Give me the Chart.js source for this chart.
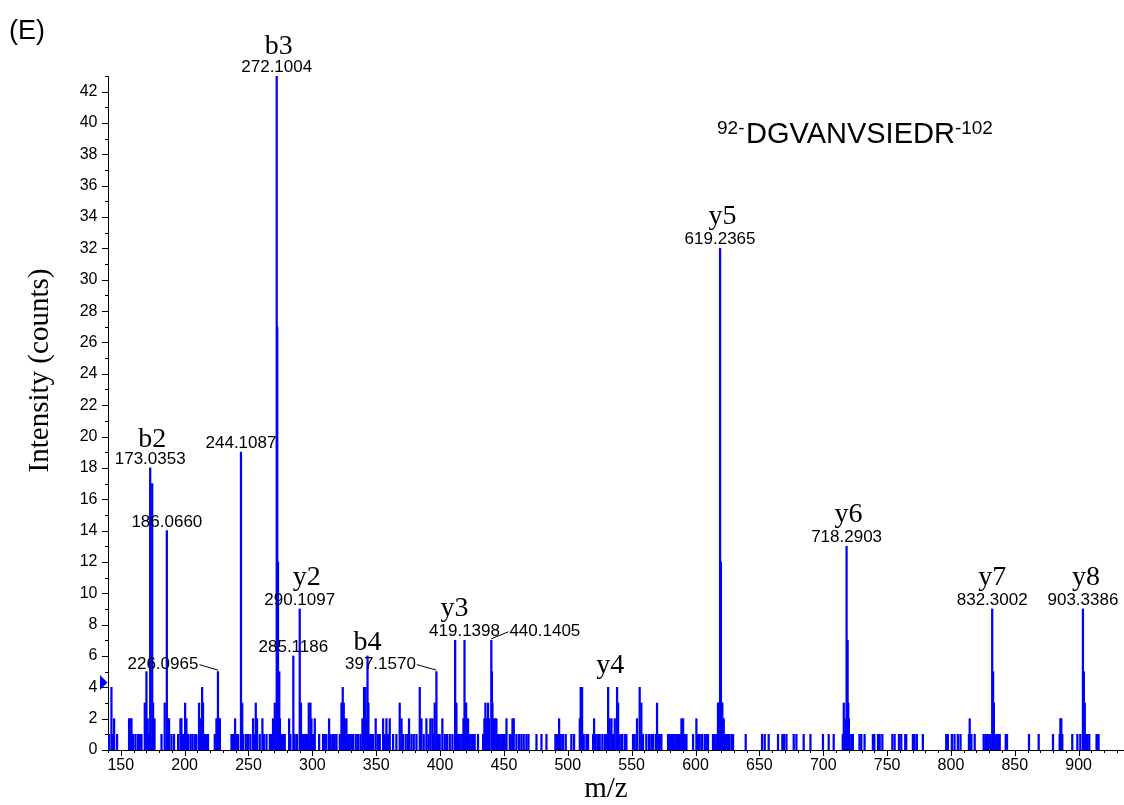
<!DOCTYPE html>
<html>
<head>
<meta charset="utf-8">
<title>MS/MS spectrum DGVANVSIEDR</title>
<script src="https://cdn.jsdelivr.net/npm/chart.js@4.4.1/dist/chart.umd.min.js"></script>
<style>
  html, body { margin: 0; padding: 0; background: #ffffff; }
  #wrap { width: 1124px; height: 805px; position: relative; }
</style>
</head>
<body>
<div id="wrap"><canvas id="spectrum" width="1124" height="805"></canvas></div>
<script>
// Centroided fragment lines of the MS/MS spectrum (m/z and counts, same order)
const mzValues = [
  140.8, 142.7, 143.5, 144.8, 147.1, 156.5, 157.6, 158.4, 159.6, 161.5, 163.5, 164.9, 166.2, 168.8, 170.1, 171.1, 172.2,
  173.0353, 174.6, 175.3, 176.4, 181.9, 184.4, 186.0660, 187.1, 187.8, 189.7, 191.7, 194.9, 196.7, 197.5, 198.8,
  200.4, 201.4, 202.7, 204.6, 206.1, 207.9, 209.2, 211.3, 212.6, 213.7, 214.4, 215.8, 217.1, 218.3, 223.6, 224.9,
  226.0965, 226.9, 227.6, 236.7, 237.9, 239.5, 240.6, 241.9, 244.1087, 245.1, 245.8, 247.9, 249.7, 251.5, 253.6,
  254.9, 255.7, 256.7, 258.8, 260.9, 262.0, 264.1, 266.7, 268.0, 269.2, 270.6, 272.1004, 272.5, 273.1, 273.6, 274.1,
  274.6, 275.8, 277.1, 278.4, 281.8, 282.8, 285.1186, 286.2, 288.0, 290.1097, 291.1, 292.2, 293.5, 294.8, 295.9,
  297.2, 298.5, 299.3, 300.6, 301.9, 305.3, 308.4, 309.7, 311.0, 313.1, 314.4, 316.2, 317.5, 318.9, 321.5, 322.8,
  323.8, 324.6, 325.6, 326.7, 328.0, 329.3, 330.6, 331.9, 334.0, 335.8, 337.7, 339.2, 340.5, 341.6, 342.4, 343.2,
  343.9, 345.0, 346.3, 347.6, 349.6, 351.4, 352.8, 355.4, 356.7, 358.0, 359.3, 360.6, 363.2, 365.8, 368.4, 369.8,
  371.0, 373.1, 374.9, 375.7, 377.6, 379.4, 381.5, 384.1, 385.4, 387.2, 389.3, 390.9, 392.4, 394.0, 395.0, 395.8,
  397.1570, 398.4, 399.7, 401.8, 403.7, 405.5, 407.6, 409.7, 411.8, 412.8, 414.1, 415.4, 417.0, 418.3, 419.1398,
  419.8, 420.4, 421.9, 423.2, 424.6, 425.8, 427.1, 429.7, 433.7, 434.7, 435.5, 436.5, 437.6, 438.3, 440.1405, 440.6,
  441.0, 441.6, 442.8, 444.1, 445.4, 446.7, 448.1, 449.3, 450.6, 452.0, 454.6, 455.9, 456.7, 457.7, 459.8, 461.9,
  463.7, 465.5, 467.6, 469.2, 475.5, 479.4, 483.3, 490.3, 491.6, 493.2, 494.5, 496.3, 498.4, 502.8, 504.9, 509.4,
  510.1, 511.2, 512.5, 514.6, 515.9, 519.8, 520.6, 521.9, 523.7, 525.0, 527.1, 529.0, 530.3, 531.6, 532.8, 534.2,
  535.4, 536.8, 538.6, 539.4, 540.7, 542.5, 544.6, 545.9, 551.1, 552.4, 554.2, 556.3, 557.6, 558.9, 561.5, 563.6,
  565.4, 566.6, 568.8, 569.9, 570.9, 572.0, 573.3, 578.5, 579.3, 580.4, 581.7, 583.0, 584.6, 586.4, 587.7, 589.0,
  590.3, 591.6, 592.9, 598.1, 600.7, 602.0, 603.3, 605.1, 607.2, 608.5, 609.8, 613.7, 615.0, 616.4, 617.6, 618.4,
  619.2365, 619.9, 620.4, 621.0, 621.6, 622.1, 623.1, 624.7, 626.3, 628.1, 629.4, 639.3, 652.1, 654.2, 657.3, 664.6,
  668.0, 669.3, 671.2, 676.9, 679.0, 684.7, 690.0, 699.8, 704.3, 708.2, 715.3, 716.1, 716.8, 717.6, 718.2903, 719.1,
  719.6, 720.1, 721.9, 723.2, 728.4, 729.8, 732.4, 738.9, 740.0, 742.9, 744.2, 746.3, 754.1, 755.9, 759.3, 761.1,
  764.2, 765.0, 770.2, 771.5, 773.3, 778.0, 796.3, 797.6, 800.7, 802.8, 805.4, 807.5, 814.1, 814.7, 816.0, 818.6,
  825.6, 827.0, 828.2, 829.6, 830.9, 832.3002, 833.0, 833.6, 834.3, 835.6, 836.9, 838.2, 842.9, 843.9, 861.1, 868.7,
  879.9, 885.1, 885.7, 886.4, 887.2, 895.0, 899.0, 901.3, 903.3386, 904.1, 904.8, 905.7, 907.0, 908.3, 914.0, 914.8,
  915.6
];
const intensityValues = [
  1, 4, 1, 2, 1, 2, 2, 2, 1, 1, 1, 1, 1, 3, 5, 2, 1,
  18, 17, 3, 2, 1, 3, 14, 2, 2, 1, 1, 1, 2, 2, 1,
  3, 2, 1, 1, 1, 1, 1, 3, 2, 4, 3, 1, 1, 1, 1, 2,
  5, 2, 2, 1, 1, 2, 1, 1, 19, 3, 1, 1, 1, 1, 2,
  1, 3, 2, 1, 2, 1, 1, 1, 1, 2, 3, 43, 27, 12, 3, 5,
  2, 1, 1, 1, 2, 1, 6, 1, 1, 9, 3, 1, 1, 1, 1,
  3, 3, 2, 1, 2, 1, 1, 1, 1, 2, 1, 1, 1, 1, 1, 3,
  4, 3, 2, 2, 1, 1, 1, 1, 1, 1, 1, 2, 4, 4, 2, 6,
  3, 1, 1, 1, 2, 1, 1, 2, 1, 2, 1, 2, 1, 1, 3, 2,
  1, 1, 1, 2, 1, 1, 1, 4, 2, 1, 2, 1, 2, 2, 1, 3,
  5, 1, 1, 2, 1, 1, 1, 1, 7, 3, 1, 1, 1, 2, 7,
  3, 3, 2, 1, 1, 1, 1, 1, 1, 2, 3, 2, 3, 2, 7, 5,
  3, 2, 2, 2, 1, 1, 1, 1, 1, 2, 1, 1, 2, 2, 1, 1,
  1, 1, 1, 1, 1, 1, 1, 1, 1, 2, 1, 1, 1, 1, 1, 2,
  4, 4, 1, 1, 1, 1, 2, 1, 1, 1, 1, 1, 1, 4, 2, 2,
  1, 2, 4, 3, 1, 1, 1, 1, 1, 1, 2, 4, 3, 1, 1, 1,
  1, 1, 1, 3, 1, 1, 1, 1, 1, 1, 1, 1, 1, 1, 1, 2,
  2, 1, 1, 1, 2, 1, 1, 1, 1, 1, 1, 1, 1, 1, 3, 3,
  32, 12, 3, 3, 2, 2, 1, 1, 1, 1, 1, 1, 1, 1, 1, 1,
  1, 1, 1, 1, 1, 1, 1, 1, 1, 1, 1, 3, 1, 2, 13, 7,
  3, 2, 1, 1, 1, 1, 1, 1, 1, 1, 1, 1, 1, 1, 1, 1,
  1, 1, 1, 1, 1, 1, 1, 1, 1, 1, 1, 1, 1, 2, 1, 1,
  1, 1, 1, 1, 1, 9, 5, 3, 1, 1, 1, 1, 1, 1, 1, 1,
  1, 1, 2, 2, 1, 1, 1, 1, 9, 5, 3, 1, 1, 1, 1, 1,
  1
];

// Axis tick labels
const xTickValues = [150, 200, 250, 300, 350, 400, 450, 500, 550, 600, 650, 700, 750, 800, 850, 900];
const yTickValues = [0, 2, 4, 6, 8, 10, 12, 14, 16, 18, 20, 22, 24, 26, 28, 30, 32, 34, 36, 38, 40, 42];

// Annotated fragment masses and ion assignments
const labeledMasses = [173.0353, 186.0660, 226.0965, 244.1087, 272.1004, 285.1186, 290.1097, 397.1570, 419.1398, 440.1405, 619.2365, 718.2903, 832.3002, 903.3386];
const ionNames  = ['b2', 'b3', 'b4', 'y2', 'y3', 'y4', 'y5', 'y6', 'y7', 'y8'];
const ionMasses = [173.0353, 272.1004, 343.2, 290.1097, 419.1398, 531.6, 619.2365, 718.2903, 832.3002, 903.3386];

// Precursor peptide and threshold level marker
const peptideSequence = 'DGVANVSIEDR';
const peptideStart = '92-';
const peptideEnd = '-102';
const thresholdLevel = 4.3;

// Text placement relative to the top of each labelled line (pixels)
const massLabelOffsets = {
  '226.0965': { dx: -55, dy: -3, leader: true },
  '397.1570': { dx: -56, dy: -3, leader: true },
  '440.1405': { dx: 53.5, dy: -4.5, leader: true }
};
const ionLabelOffsets = {
  b2: { dx: 2, dy: -21 },  b3: { dx: 2, dy: -21.7 }, b4: { dx: 0, dy: -5.5 },
  y2: { dx: 7, dy: -24 },  y3: { dx: -10, dy: -24 }, y4: { dx: 2, dy: -14.4 },
  y5: { dx: 2.5, dy: -24 }, y6: { dx: 2, dy: -24 }, y7: { dx: 0, dy: -24 }, y8: { dx: 3, dy: -24 }
};

const SANS = '"Liberation Sans", Arial, sans-serif';
const SERIF = '"Liberation Serif", "Times New Roman", serif';
const BLUE = '#0000ff';

function intensityAt(mz) {
  const i = mzValues.indexOf(mz);
  return i >= 0 ? intensityValues[i] : 0;
}

const spectrumDecorations = {
  id: 'spectrumDecorations',
  afterDraw(chart) {
    const { ctx, chartArea, scales } = chart;
    const xs = scales.x, ys = scales.y;
    ctx.save();

    // major and minor tick marks
    ctx.strokeStyle = '#000';
    ctx.lineWidth = 1;
    ctx.beginPath();
    for (let v = 140; v <= xs.max; v += 10) {
      const px = Math.round(xs.getPixelForValue(v)) + 0.5;
      const len = v % 50 === 0 ? 6 : 3;
      ctx.moveTo(px, chartArea.bottom);
      ctx.lineTo(px, chartArea.bottom + len);
    }
    for (let v = 0; v <= ys.max; v += 1) {
      const py = Math.round(ys.getPixelForValue(v)) + 0.5;
      const len = v % 2 === 0 ? 6 : 3;
      ctx.moveTo(chartArea.left, py);
      ctx.lineTo(chartArea.left - len, py);
    }
    ctx.stroke();

    // threshold marker on the intensity axis
    const ty = ys.getPixelForValue(thresholdLevel);
    ctx.fillStyle = BLUE;
    ctx.beginPath();
    ctx.moveTo(chartArea.left - 0.5, ty);
    ctx.lineTo(chartArea.left - 8, ty - 7.5);
    ctx.lineTo(chartArea.left - 8, ty + 7.5);
    ctx.closePath();
    ctx.fill();

    // m/z labels of annotated lines
    ctx.fillStyle = '#000';
    ctx.textBaseline = 'alphabetic';
    ctx.textAlign = 'center';
    ctx.font = '17px ' + SANS;
    labeledMasses.forEach(mz => {
      const text = mz.toFixed(4);
      const px = xs.getPixelForValue(mz);
      const top = ys.getPixelForValue(intensityAt(mz));
      const o = massLabelOffsets[text] || { dx: 0, dy: -4 };
      const cx = px + o.dx, base = top + o.dy;
      ctx.fillText(text, cx, base);
      if (o.leader) {
        const w = ctx.measureText(text).width;
        const edge = o.dx < 0 ? cx + w / 2 + 1 : cx - w / 2 - 1;
        ctx.beginPath();
        ctx.moveTo(edge, base - 4);
        ctx.lineTo(px, top - 1.5);
        ctx.stroke();
      }
    });

    // ion assignments
    ctx.font = '28px ' + SERIF;
    ionNames.forEach((name, i) => {
      const mz = ionMasses[i];
      const px = xs.getPixelForValue(mz);
      const top = ys.getPixelForValue(intensityAt(mz));
      const o = ionLabelOffsets[name];
      ctx.fillText(name, px + o.dx, top + o.dy);
    });

    // axis titles
    ctx.font = '29px ' + SERIF;
    ctx.textAlign = 'center';
    ctx.fillText('m/z', 606, 797);
    ctx.save();
    ctx.translate(47.5, 370.5);
    ctx.rotate(-Math.PI / 2);
    ctx.fillText('Intensity (counts)', 0, 0);
    ctx.restore();

    // panel letter
    ctx.textAlign = 'left';
    ctx.font = '27px ' + SANS;
    ctx.fillText('(E)', 9, 38.5);

    // peptide sequence with residue numbers
    let xp = 717;
    ctx.font = '19px ' + SANS;
    ctx.fillText(peptideStart, xp, 133.5);
    xp += ctx.measureText(peptideStart).width + 1.5;
    ctx.font = '29px ' + SANS;
    ctx.fillText(peptideSequence, xp, 142.7);
    xp += ctx.measureText(peptideSequence).width;
    ctx.font = '19px ' + SANS;
    ctx.fillText(peptideEnd, xp, 133.5);

    ctx.restore();
  }
};

new Chart(document.getElementById('spectrum'), {
  type: 'bar',
  data: {
    datasets: [{
      data: mzValues.map((m, i) => ({ x: m, y: intensityValues[i] })),
      backgroundColor: BLUE,
      borderWidth: 0,
      barThickness: 1.6,
      barPercentage: 1,
      categoryPercentage: 1
    }]
  },
  options: {
    responsive: false,
    animation: false,
    devicePixelRatio: 1,
    layout: { padding: { top: 76, right: 0, bottom: 0, left: 0 } },
    plugins: { legend: { display: false }, tooltip: { enabled: false } },
    scales: {
      x: {
        type: 'linear',
        min: 140,
        max: 935.5,
        offset: false,
        bounds: 'data',
        grid: { display: false, drawTicks: true, tickLength: 6 },
        border: { display: true, color: '#000', width: 1 },
        ticks: { font: { family: SANS, size: 16 }, color: '#000', padding: 0, maxRotation: 0, autoSkip: false },
        afterBuildTicks: s => { s.ticks = xTickValues.map(v => ({ value: v })); },
        afterFit: s => { s.height = 55; }
      },
      y: {
        type: 'linear',
        min: 0,
        max: 43,
        bounds: 'data',
        grid: { display: false, drawTicks: true, tickLength: 6 },
        border: { display: true, color: '#000', width: 1 },
        ticks: { font: { family: SANS, size: 16 }, color: '#000', padding: 4.5, autoSkip: false },
        afterBuildTicks: s => { s.ticks = yTickValues.map(v => ({ value: v })); },
        afterFit: s => { s.width = 108; }
      }
    }
  },
  plugins: [spectrumDecorations]
});
</script>
</body>
</html>
